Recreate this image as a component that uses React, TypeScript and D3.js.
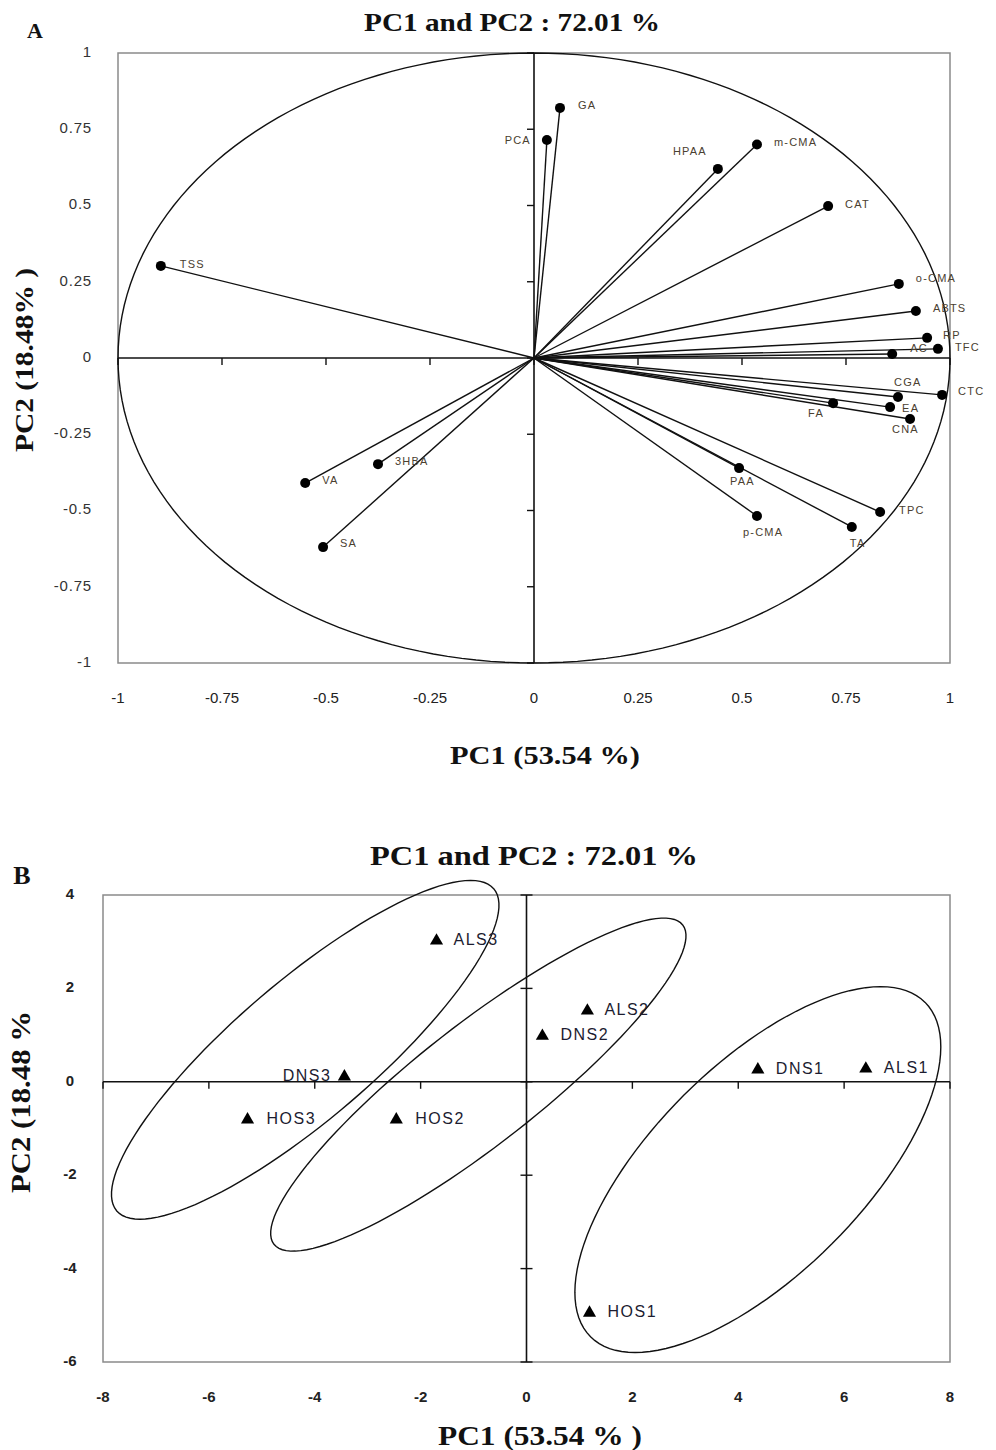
import React, { useEffect, useRef } from 'react';
import * as d3 from 'd3';

// panel A: variable loadings on PC1 / PC2
const loadNames = ['GA', 'PCA', 'HPAA', 'm-CMA', 'CAT', 'o-CMA', 'ABTS', 'RP', 'AC', 'TFC', 'CTC', 'CGA', 'EA', 'CNA', 'FA', 'PAA', 'p-CMA', 'TPC', 'TA', 'TSS', 'VA', '3HBA', 'SA'];
const loadPC1 = [0.0625, 0.031, 0.442, 0.536, 0.707, 0.877, 0.918, 0.945, 0.861, 0.971, 0.981, 0.875, 0.856, 0.904, 0.719, 0.493, 0.536, 0.832, 0.764, -0.897, -0.55, -0.375, -0.507];
const loadPC2 = [0.82, 0.715, 0.62, 0.70, 0.498, 0.243, 0.154, 0.066, 0.013, 0.03, -0.121, -0.128, -0.161, -0.2, -0.148, -0.361, -0.518, -0.505, -0.554, 0.302, -0.41, -0.348, -0.62];
const loadTicks = [-1, -0.75, -0.5, -0.25, 0, 0.25, 0.5, 0.75, 1];

// panel B: sample scores
const sampleNames = ['ALS3', 'ALS2', 'DNS2', 'DNS3', 'HOS3', 'HOS2', 'DNS1', 'ALS1', 'HOS1'];
const samplePC1 = [-1.7, 1.15, 0.3, -3.44, -5.27, -2.46, 4.37, 6.41, 1.19];
const samplePC2 = [3.02, 1.52, 0.98, 0.11, -0.81, -0.81, 0.26, 0.28, -4.95];
const scoreXTicks = [-8, -6, -4, -2, 0, 2, 4, 6, 8];
const scoreYTicks = [-6, -4, -2, 0, 2, 4];

// group ellipses: centre and the two half-axis vectors, in score units
const ellipseCX = [-4.18, -0.91, 4.37];
const ellipseCY = [0.685, -0.06, -1.88];
const ellipseUX = [3.56, 3.86, 3.16];
const ellipseUY = [3.45, 3.42, 3.58];
const ellipseVX = [0.85, 0.7, 1.4];
const ellipseVY = [-1.12, -1.01, -1.59];

// label placement next to each point (px)
const loadLabel: Record<string, [number, number, string]> = {
  GA: [18, -2, 'start'], PCA: [-16, 1, 'end'], HPAA: [-28, -17, 'middle'], 'm-CMA': [17, -1, 'start'],
  CAT: [17, -1, 'start'], 'o-CMA': [17, -5, 'start'], ABTS: [17, -2, 'start'], RP: [16, -2, 'start'],
  AC: [18, -5, 'start'], TFC: [17, -1, 'start'], CTC: [16, -3, 'start'], CGA: [-4, -14, 'start'],
  EA: [12, 2, 'start'], CNA: [-18, 11, 'start'], FA: [-25, 11, 'start'], PAA: [-9, 14, 'start'],
  'p-CMA': [-14, 17, 'start'], TPC: [19, -1, 'start'], TA: [-2, 17, 'start'], TSS: [19, -1, 'start'],
  VA: [17, -2, 'start'], '3HBA': [17, -2, 'start'], SA: [17, -3, 'start'],
};
const sampleLabel: Record<string, [number, string]> = {
  ALS3: [17, 'start'], ALS2: [17, 'start'], DNS2: [18, 'start'], DNS3: [-13, 'end'], HOS3: [19, 'start'],
  HOS2: [19, 'start'], DNS1: [18, 'start'], ALS1: [18, 'start'], HOS1: [18, 'start'],
};

const serif = '"Liberation Serif", "Times New Roman", serif';
const sans = '"Liberation Sans", Arial, sans-serif';

export default function App() {
  const ref = useRef<SVGSVGElement>(null);

  useEffect(() => {
    const svg = d3.select(ref.current);
    svg.selectAll('*').remove();

    const title = (t: string, x: number, y: number, size: number, len?: number, rotate = false) => {
      const el = svg
        .append('text')
        .attr('x', x)
        .attr('y', y)
        .attr('text-anchor', 'middle')
        .attr('font-family', serif)
        .attr('font-weight', 'bold')
        .attr('font-size', size)
        .attr('fill', '#111')
        .text(t);
      if (len) el.attr('textLength', len).attr('lengthAdjust', 'spacingAndGlyphs');
      if (rotate) el.attr('transform', `rotate(-90,${x},${y})`);
      return el;
    };

    // ---------- panel A ----------
    const xa = d3.scaleLinear().domain([-1, 1]).range([118, 950]);
    const ya = d3.scaleLinear().domain([-1, 1]).range([663, 53]);
    const ga = svg.append('g');

    ga.append('rect')
      .attr('x', xa(-1)).attr('y', ya(1))
      .attr('width', xa(1) - xa(-1)).attr('height', ya(-1) - ya(1))
      .attr('fill', 'none').attr('stroke', '#8a8a8a').attr('stroke-width', 1.5);

    const circle = d3.range(0, 360, 2).map((d) => [Math.cos((d * Math.PI) / 180), Math.sin((d * Math.PI) / 180)]);
    ga.append('path')
      .datum(circle)
      .attr('fill', 'none').attr('stroke', '#111').attr('stroke-width', 1.4)
      .attr('d', d3.line().x((d) => xa(d[0])).y((d) => ya(d[1])).curve(d3.curveLinearClosed));

    ga.append('line').attr('x1', xa(-1)).attr('x2', xa(1)).attr('y1', ya(0)).attr('y2', ya(0)).attr('stroke', '#111').attr('stroke-width', 1.6);
    ga.append('line').attr('x1', xa(0)).attr('x2', xa(0)).attr('y1', ya(1)).attr('y2', ya(-1)).attr('stroke', '#111').attr('stroke-width', 1.6);
    loadTicks.forEach((t) => {
      ga.append('line').attr('x1', xa(t)).attr('x2', xa(t)).attr('y1', ya(0)).attr('y2', ya(0) + 7).attr('stroke', '#111').attr('stroke-width', 1.4);
      ga.append('line').attr('x1', xa(0) - 7).attr('x2', xa(0)).attr('y1', ya(t)).attr('y2', ya(t)).attr('stroke', '#111').attr('stroke-width', 1.4);
    });

    loadNames.forEach((n, i) => {
      ga.append('line')
        .attr('x1', xa(0)).attr('y1', ya(0)).attr('x2', xa(loadPC1[i])).attr('y2', ya(loadPC2[i]))
        .attr('stroke', '#111').attr('stroke-width', 1.4);
    });
    loadNames.forEach((n, i) => {
      ga.append('circle').attr('cx', xa(loadPC1[i])).attr('cy', ya(loadPC2[i])).attr('r', 5).attr('fill', '#000');
      const [dx, dy, anchor] = loadLabel[n];
      ga.append('text')
        .attr('x', xa(loadPC1[i]) + dx).attr('y', ya(loadPC2[i]) + dy)
        .attr('dominant-baseline', 'middle').attr('text-anchor', anchor)
        .attr('font-family', sans).attr('font-size', 11).attr('letter-spacing', 1.2)
        .attr('fill', '#4a4030').text(n);
    });

    loadTicks.forEach((t) => {
      ga.append('text').attr('x', 92).attr('y', ya(t)).attr('dominant-baseline', 'middle').attr('text-anchor', 'end')
        .attr('font-family', sans).attr('font-size', 15).attr('letter-spacing', 0.8).attr('fill', '#333').text(String(t));
      ga.append('text').attr('x', xa(t)).attr('y', 699).attr('dominant-baseline', 'middle').attr('text-anchor', 'middle')
        .attr('font-family', sans).attr('font-size', 15).attr('fill', '#222').text(String(t));
    });

    svg.append('text').attr('x', 35).attr('y', 38).attr('text-anchor', 'middle')
      .attr('font-family', serif).attr('font-weight', 'bold').attr('font-size', 22).attr('fill', '#111').text('A');
    title('PC1 and PC2 : 72.01 %', 512, 31, 25, 296);
    title('PC1 (53.54 %)', 545, 764, 25, 190);
    title('PC2 (18.48% )', 33, 360, 25, 184, true);

    // ---------- panel B ----------
    const xb = d3.scaleLinear().domain([-8, 8]).range([103, 950]);
    const yb = d3.scaleLinear().domain([-6, 4]).range([1362, 895]);
    const gb = svg.append('g');

    gb.append('rect')
      .attr('x', xb(-8)).attr('y', yb(4))
      .attr('width', xb(8) - xb(-8)).attr('height', yb(-6) - yb(4))
      .attr('fill', 'none').attr('stroke', '#8a8a8a').attr('stroke-width', 1.5);

    gb.append('line').attr('x1', xb(-8)).attr('x2', xb(8)).attr('y1', yb(0)).attr('y2', yb(0)).attr('stroke', '#111').attr('stroke-width', 1.6);
    gb.append('line').attr('x1', xb(0)).attr('x2', xb(0)).attr('y1', yb(4)).attr('y2', yb(-6)).attr('stroke', '#111').attr('stroke-width', 1.6);
    scoreXTicks.forEach((t) => {
      gb.append('line').attr('x1', xb(t)).attr('x2', xb(t)).attr('y1', yb(0)).attr('y2', yb(0) + 7).attr('stroke', '#111').attr('stroke-width', 1.4);
      gb.append('text').attr('x', xb(t)).attr('y', 1398).attr('dominant-baseline', 'middle').attr('text-anchor', 'middle')
        .attr('font-family', sans).attr('font-weight', 'bold').attr('font-size', 15).attr('fill', '#222').text(String(t));
    });
    scoreYTicks.forEach((t) => {
      gb.append('line').attr('x1', xb(0) - 6).attr('x2', xb(0) + 6).attr('y1', yb(t)).attr('y2', yb(t)).attr('stroke', '#111').attr('stroke-width', 1.4);
      gb.append('text').attr('x', 70).attr('y', yb(t)).attr('dominant-baseline', 'middle').attr('text-anchor', 'middle')
        .attr('font-family', sans).attr('font-weight', 'bold').attr('font-size', 15).attr('fill', '#222').text(String(t));
    });

    const ang = d3.range(0, 361, 3).map((d) => (d * Math.PI) / 180);
    ellipseCX.forEach((cx, k) => {
      const pts = ang.map((a) => [
        cx + ellipseUX[k] * Math.cos(a) + ellipseVX[k] * Math.sin(a),
        ellipseCY[k] + ellipseUY[k] * Math.cos(a) + ellipseVY[k] * Math.sin(a),
      ]);
      gb.append('path')
        .datum(pts)
        .attr('fill', 'none').attr('stroke', '#111').attr('stroke-width', 1.4)
        .attr('d', d3.line().x((d) => xb(d[0])).y((d) => yb(d[1])).curve(d3.curveLinearClosed));
    });

    const tri = d3.symbol().type(d3.symbolTriangle).size(75);
    sampleNames.forEach((n, i) => {
      gb.append('path').attr('d', tri()).attr('fill', '#000')
        .attr('transform', `translate(${xb(samplePC1[i])},${yb(samplePC2[i])})`);
      const [dx, anchor] = sampleLabel[n];
      gb.append('text')
        .attr('x', xb(samplePC1[i]) + dx).attr('y', yb(samplePC2[i]))
        .attr('dominant-baseline', 'middle').attr('text-anchor', anchor)
        .attr('font-family', sans).attr('font-size', 16).attr('letter-spacing', 1.5)
        .attr('fill', '#1c1c30').text(n);
    });

    svg.append('text').attr('x', 22).attr('y', 884).attr('text-anchor', 'middle')
      .attr('font-family', serif).attr('font-weight', 'bold').attr('font-size', 26).attr('fill', '#111').text('B');
    title('PC1 and PC2 : 72.01 %', 534, 865, 27, 328);
    title('PC1 (53.54 % )', 540, 1445, 27, 204);
    title('PC2 (18.48 %', 30, 1102, 27, 182, true);
  }, []);

  return (
    <svg
      ref={ref}
      width={996}
      height={1450}
      style={{ position: 'absolute', left: 0, top: 0, background: '#fff' }}
    ></svg>
  );
}
